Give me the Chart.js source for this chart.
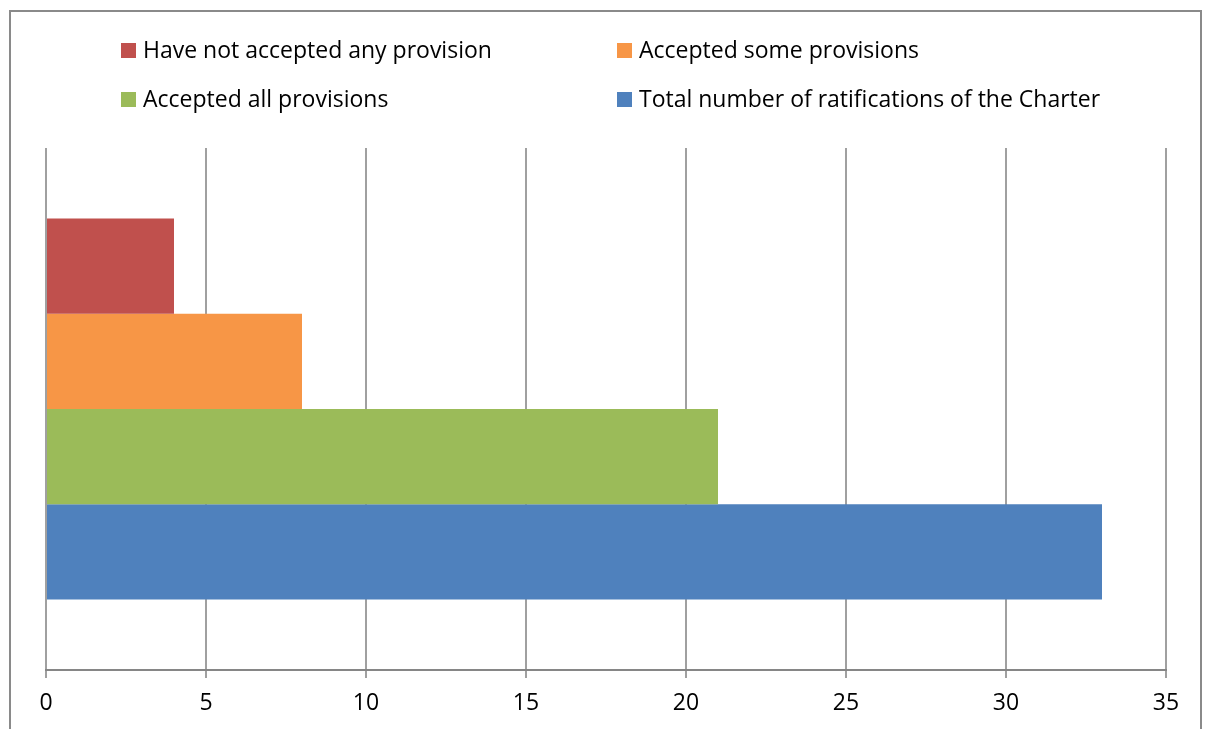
<!DOCTYPE html>
<html>
<head>
<meta charset="utf-8">
<script src="https://cdn.jsdelivr.net/npm/chart.js@4.4.0/dist/chart.umd.min.js"></script>
<style>
  html, body { margin: 0; padding: 0; background: #fff; }
  #wrap { position: relative; width: 1206px; height: 729px; overflow: hidden; }
  #frame { position: absolute; left: 9px; top: 10px; width: 1193px; height: 740px; border: 2px solid #8a8a8a; box-sizing: border-box; }
  canvas { position: absolute; left: 0; top: 0; }
  .lg { position: absolute; font-family: "Open Sans", "Noto Sans", sans-serif; font-size: 23px; color: #000; white-space: nowrap; line-height: 1; }
  .lg i { position: absolute; left: 0; top: 0; width: 15px; height: 15px; }
  .lg span { position: absolute; left: 22px; top: -5px; }
</style>
</head>
<body>
<div id="wrap">
  <div id="frame"></div>
  <canvas id="c" width="1206" height="729"></canvas>
  <div id="legend"></div>
</div>
<script>
const categories = [''];
const seriesNames = [
  'Have not accepted any provision',
  'Accepted some provisions',
  'Accepted all provisions',
  'Total number of ratifications of the Charter'
];
const seriesValues = [4, 8, 21, 33];
const seriesColors = ['#C0504D', '#F79646', '#9BBB59', '#4F81BD'];
const xTicks = [0, 5, 10, 15, 20, 25, 30, 35];

// Legend (HTML, real text), 2 columns
const legendPos = [[121, 43], [617, 43], [121, 92], [617, 92]];
const legend = document.getElementById('legend');
seriesNames.forEach((n, i) => {
  const d = document.createElement('div');
  d.className = 'lg';
  d.style.left = legendPos[i][0] + 'px';
  d.style.top = legendPos[i][1] + 'px';
  d.innerHTML = '<i style="background:' + seriesColors[i] + '"></i><span></span>';
  d.querySelector('span').textContent = n;
  legend.appendChild(d);
});

new Chart(document.getElementById('c'), {
  type: 'bar',
  data: {
    labels: categories,
    datasets: seriesNames.map((n, i) => ({
      label: n,
      data: [seriesValues[i]],
      backgroundColor: seriesColors[i],
      borderWidth: 0,
      categoryPercentage: 0.73,
      barPercentage: 1.0
    }))
  },
  options: {
    indexAxis: 'y',
    responsive: false,
    animation: false,
    devicePixelRatio: 1,
    layout: { padding: { left: 46, right: 40, top: 148, bottom: 0 } },
    plugins: { legend: { display: false }, tooltip: { enabled: false } },
    scales: {
      y: { display: false },
      x: {
        min: 0, max: 35,
        afterBuildTicks: (s) => { s.ticks = xTicks.map(v => ({ value: v })); },
        afterFit: (s) => { s.height = 59; },
        grid: { color: '#a0a0a0', lineWidth: 2, tickLength: 8, drawTicks: true },
        border: { color: '#868686', width: 2 },
        ticks: { color: '#000', padding: 12, font: { family: '"Open Sans", "Noto Sans", sans-serif', size: 23 } }
      }
    }
  }
});
</script>
</body>
</html>
